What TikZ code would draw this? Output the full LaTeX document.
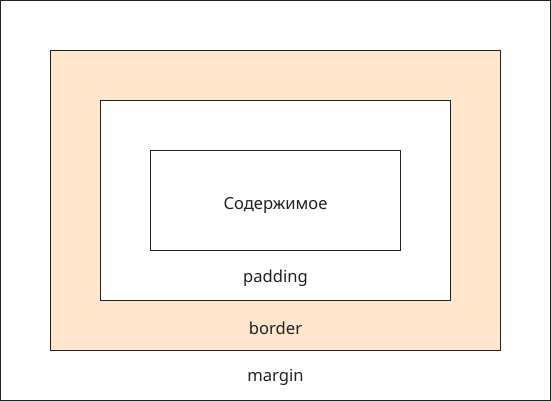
\documentclass[tikz,border=0pt]{standalone}
\usepackage{fontspec}
\setmainfont{Noto Sans}
\usetikzlibrary{calc}
\definecolor{linecol}{HTML}{222222}
\definecolor{bordfill}{HTML}{FFE6CC}
\begin{document}
\begin{tikzpicture}[
  x=1pt, y=-1pt,
  layerbox/.style={rectangle, draw=linecol, line width=1pt, inner sep=0pt},
  lbl/.style={font=\fontsize{16.6}{19}\selectfont, text=linecol, inner sep=0pt, yshift=-2pt},
]

% bounding box of the page
\useasboundingbox (0,0) rectangle (551,401);

% nested boxes
\node[layerbox, fill=white, minimum width=550pt, minimum height=400pt] (margin) at (275.5,200.5) {};
\node[layerbox, fill=bordfill, minimum width=450pt, minimum height=300pt] (border) at (275.5,200.5) {};
\node[layerbox, fill=white, minimum width=350pt, minimum height=200pt] (padding) at (275.5,200.5) {};
\node[layerbox, fill=white, minimum width=250pt, minimum height=100pt] (content) at (275.5,200.5) {};

% labels
\node[lbl, yshift=-3pt] (contentlbl) at (content.center) {Содержимое};
\node[lbl] (paddinglbl) at ($(content.south)!0.5!(padding.south)$) {padding};
\node[lbl] (borderlbl) at ($(padding.south)!0.5!(border.south)$) {border};
\node[lbl, yshift=1pt] (marginlbl) at ($(border.south)!0.5!(margin.south)$) {margin};

\end{tikzpicture}
\end{document}
